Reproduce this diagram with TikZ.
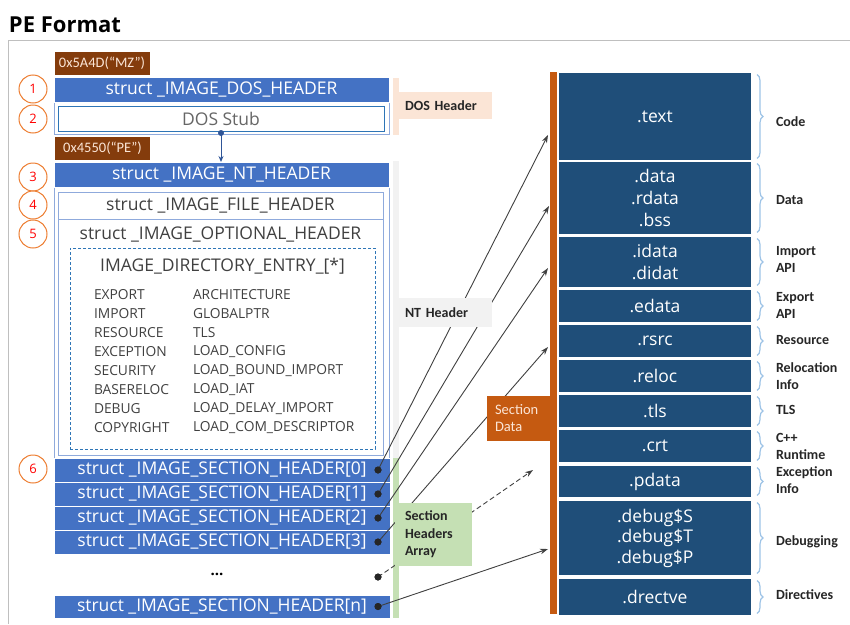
\documentclass[tikz,border=0pt]{standalone}
\usepackage{fontspec}
\setmainfont{Open Sans}
\newfontfamily\lblfont{Carlito}
\usetikzlibrary{arrows.meta,decorations.pathreplacing}
\definecolor{hdrblue}{HTML}{4472C4}
\definecolor{boxline}{HTML}{8FAADC}
\definecolor{stubline}{HTML}{2E75B6}
\definecolor{brownlbl}{HTML}{843C0C}
\definecolor{secblue}{HTML}{1F4E79}
\definecolor{orangebar}{HTML}{C55A11}
\definecolor{peach}{HTML}{FBE5D6}
\definecolor{lgray}{HTML}{F2F2F2}
\definecolor{lgreen}{HTML}{C5E0B4}
\definecolor{bracecol}{HTML}{9DC3E6}
\definecolor{circol}{HTML}{ED7D31}
\definecolor{txtgray}{HTML}{404040}
\definecolor{arrgray}{HTML}{404040}
\definecolor{framegray}{HTML}{BFBFBF}
\definecolor{connblue}{HTML}{2F5597}
\begin{document}
\begin{tikzpicture}[x=1pt,y=-1pt,
  every node/.style={inner sep=0pt, outer sep=0pt},
  hbar/.style={fill=hdrblue, draw=white, line width=0.6pt, text=white, font=\fontsize{17.5}{21}\selectfont, minimum width=336pt, minimum height=24pt},
  brownbox/.style={fill=brownlbl, text=peach, font=\lblfont\fontsize{14.5}{16}\selectfont, minimum width=95pt, minimum height=23pt},
  numcirc/.style={circle, draw=circol, line width=1pt, fill=white, minimum size=28pt, text=red, font=\fontsize{13}{15}\selectfont},
  secbox/.style={fill=secblue, text=white, font=\fontsize{17.5}{22}\selectfont, minimum width=192pt, align=center},
  sidelbl/.style={anchor=west, align=left, font=\lblfont\bfseries\fontsize{14}{17}\selectfont, text=black!85},
  secbrace/.style={draw=bracecol, line width=1.2pt, decorate, decoration={brace, amplitude=6pt}},
  entry/.style={anchor=west, text=txtgray, font=\fontsize{13.8}{15}\selectfont},
  ptr/.style={draw=arrgray, line width=0.9pt, -{Stealth[length=8pt,width=5.5pt]}},
  dotnode/.style={circle, fill=black!85, minimum size=7pt},
  tagbox/.style={align=left, text=black!85, font=\lblfont\bfseries\fontsize{14}{17.5}\selectfont, inner xsep=8pt},
  maintxt/.style={text=txtgray, font=\fontsize{17.5}{21}\selectfont},
]
\useasboundingbox (0,0) rectangle (850,624);
% frame and title
\draw[framegray, line width=0.8pt] (8,624) -- (8,40) -- (850,40);
\node[anchor=base west, font=\bfseries\fontsize{22}{26}\selectfont] (title) at (9,32) {PE Format};

% side bars
\fill[peach] (393,78) rectangle (399,135);
\fill[lgray] (393,161) rectangle (399,458);
\fill[lgreen] (393,458) rectangle (399,618);

% DOS header
\node[brownbox] (mz) at (102,63) {0x5A4D(“MZ”)};
\node[draw=boxline, line width=0.8pt, minimum width=335pt, minimum height=57pt] (dosouter) at (221.5,105.5) {};
\node[hbar, minimum width=335pt, minimum height=25pt] (dosbar) at (221.5,89.5) {struct \_IMAGE\_DOS\_HEADER};
\node[draw=stubline, line width=0.8pt, fill=white, minimum width=326pt, minimum height=25pt, text=black!60, font=\fontsize{17.5}{21}\selectfont] (stub) at (221,118.5) {DOS Stub};
\node[brownbox] (pe) at (102.5,148.5) {0x4550(“PE”)};

% NT header
\node[draw=boxline, line width=0.8pt, minimum width=335pt, minimum height=296pt] (ntouter) at (221.5,310) {};
\node[hbar, minimum width=335pt, minimum height=25pt] (ntbar) at (221.5,174.5) {struct \_IMAGE\_NT\_HEADER};
\node[draw=boxline, line width=0.8pt, minimum width=325pt, minimum height=263pt] (inner) at (220.5,323.5) {};
\coordinate (fsep) at (0,219);
\draw[boxline, line width=0.8pt] (inner.west |- fsep) -- (inner.east |- fsep);
\node[maintxt] (filehdr) at (220.5,205.5) {struct \_IMAGE\_FILE\_HEADER};
\node[maintxt] (opthdr) at (220.5,234) {struct \_IMAGE\_OPTIONAL\_HEADER};
\node[draw=stubline, dash pattern=on 3pt off 2pt, line width=0.7pt, minimum width=305pt, minimum height=201pt] (dirbox) at (222.5,348.5) {};
\node[maintxt] (dirtitle) at (222.5,266) {IMAGE\_DIRECTORY\_ENTRY\_[*]};
\node[entry] (e1) at (94,295) {EXPORT};
\node[entry] (e2) at (94,314) {IMPORT};
\node[entry] (e3) at (94,333) {RESOURCE};
\node[entry] (e4) at (94,352) {EXCEPTION};
\node[entry] (e5) at (94,371) {SECURITY};
\node[entry] (e6) at (94,390) {BASERELOC};
\node[entry] (e7) at (94,409) {DEBUG};
\node[entry] (e8) at (94,428) {COPYRIGHT};
\node[entry] (f1) at (193,295) {ARCHITECTURE};
\node[entry] (f2) at (193,314) {GLOBALPTR};
\node[entry] (f3) at (193,333) {TLS};
\node[entry] (f4) at (193,352) {LOAD\_CONFIG};
\node[entry] (f5) at (193,371) {LOAD\_BOUND\_IMPORT};
\node[entry] (f6) at (193,390) {LOAD\_IAT};
\node[entry] (f7) at (193,409) {LOAD\_DELAY\_IMPORT};
\node[entry] (f8) at (193,428) {LOAD\_COM\_DESCRIPTOR};

% DOS -> NT connector
\node[circle, fill=connblue, minimum size=6pt] (dosdot) at (221,133) {};
\draw[connblue, line width=1pt, -{Stealth[length=6pt,width=5pt]}] (dosdot.center) -- (dosdot |- ntouter.north);

% section headers
\node[hbar] (sh0) at (222,470) {struct \_IMAGE\_SECTION\_HEADER[0]};
\node[hbar] (sh1) at (222,494) {struct \_IMAGE\_SECTION\_HEADER[1]};
\node[hbar] (sh2) at (222,518) {struct \_IMAGE\_SECTION\_HEADER[2]};
\node[hbar] (sh3) at (222,542) {struct \_IMAGE\_SECTION\_HEADER[3]};
\node[font=\bfseries\fontsize{15}{18}\selectfont] (dots) at (217,574) {...};
\node[hbar, minimum height=23pt] (shn) at (222,606.5) {struct \_IMAGE\_SECTION\_HEADER[n]};

% numbered circles
\node[numcirc] (c1) at (33,89) {1};
\node[numcirc] (c2) at (33,119) {2};
\node[numcirc] (c3) at (33,177) {3};
\node[numcirc] (c4) at (33,205) {4};
\node[numcirc] (c5) at (33,234) {5};
\node[numcirc] (c6) at (33,469) {6};

% orange bar and section boxes
\fill[orangebar] (550,72) rectangle (557,614);
\node[secbox, minimum height=87pt] (stext) at (655,116.5) {.text};
\node[secbox, minimum height=72pt] (sdata) at (655,198) {.data\\.rdata\\.bss};
\node[secbox, minimum height=50pt] (sidata) at (655,262) {.idata\\.didat};
\node[secbox, minimum height=32pt] (sedata) at (655,306) {.edata};
\node[secbox, minimum height=32pt] (srsrc) at (655,341) {.rsrc};
\node[secbox, minimum height=32pt] (sreloc) at (655,376) {.reloc};
\node[secbox, minimum height=32pt] (stls) at (655,411) {.tls};
\node[secbox, minimum height=32pt] (scrt) at (655,446) {.crt};
\node[secbox, minimum height=31pt] (spdata) at (655,481.5) {.pdata};
\node[secbox, minimum height=74pt, font=\fontsize{17.5}{20.5}\selectfont] (sdebug) at (655,538) {.debug\$S\\.debug\$T\\.debug\$P};
\node[secbox, minimum height=36pt] (sdrectve) at (655,597) {.drectve};

% braces
\foreach \b in {stext,sdata,sidata,sedata,srsrc,sreloc,stls,scrt,spdata,sdebug,sdrectve}
  \draw[secbrace] ([xshift=6pt,yshift=-1.5pt]\b.north east) -- ([xshift=6pt,yshift=1.5pt]\b.south east);
\node[sidelbl] (lcode) at (776,122) {Code};
\node[sidelbl] (ldata) at (776,200) {Data};
\node[sidelbl] (limp) at (776,259.5) {Import\\API};
\node[sidelbl] (lexp) at (776,305.5) {Export\\API};
\node[sidelbl] (lres) at (776,340) {Resource};
\node[sidelbl] (lrel) at (776,376.5) {Relocation\\Info};
\node[sidelbl] (ltls) at (776,410) {TLS};
\node[sidelbl] (lcrt) at (776,446.5) {C++\\Runtime};
\node[sidelbl] (lexc) at (776,480.5) {Exception\\Info};
\node[sidelbl] (ldbg) at (776,542) {Debugging};
\node[sidelbl] (ldir) at (776,595) {Directives};

% pointers
\coordinate (t0) at (548,135);
\coordinate (t1) at (549,206);
\coordinate (t2) at (548,268);
\coordinate (t3) at (548,347);
\coordinate (tx) at (533,470);
\coordinate (tn) at (548,549);
\node[dotnode] (d0) at (378,470) {};
\node[dotnode] (d1) at (378,494) {};
\node[dotnode] (d2) at (378,518) {};
\node[dotnode] (d3) at (378,542) {};
\node[dotnode] (dx) at (378,577) {};
\node[dotnode] (dn) at (378,606.5) {};
\draw[ptr] (d0.center) -- (t0);
\draw[ptr] (d1.center) -- (t1);
\draw[ptr] (d2.center) -- (t2);
\draw[ptr] (d3.center) -- (t3);
\draw[ptr, dash pattern=on 5pt off 3pt] (dx.center) -- (tx);
\draw[ptr] (dn.center) -- (tn);
\foreach \d in {d0,d1,d2,d3,dx,dn} \node[dotnode] at (\d) {};

% tag boxes
\node[tagbox, fill=peach, minimum width=95pt, minimum height=27pt, text width=79pt] (tdos) at (444.5,105.5) {DOS Header};
\node[tagbox, fill=lgray, minimum width=95pt, minimum height=29pt, text width=79pt] (tnt) at (444.5,312.5) {NT Header};
\node[tagbox, fill=lgreen, minimum width=77pt, minimum height=63pt, text width=57pt, inner xsep=10pt] (tsh) at (433.5,534.5) {Section\\Headers\\Array};
\node[fill=orangebar, minimum width=70pt, minimum height=45pt, text width=54pt, inner xsep=8pt, align=left, text=peach, font=\lblfont\fontsize{14.5}{17}\selectfont] (tsd) at (522,418.5) {Section\\Data};
\end{tikzpicture}
\end{document}
